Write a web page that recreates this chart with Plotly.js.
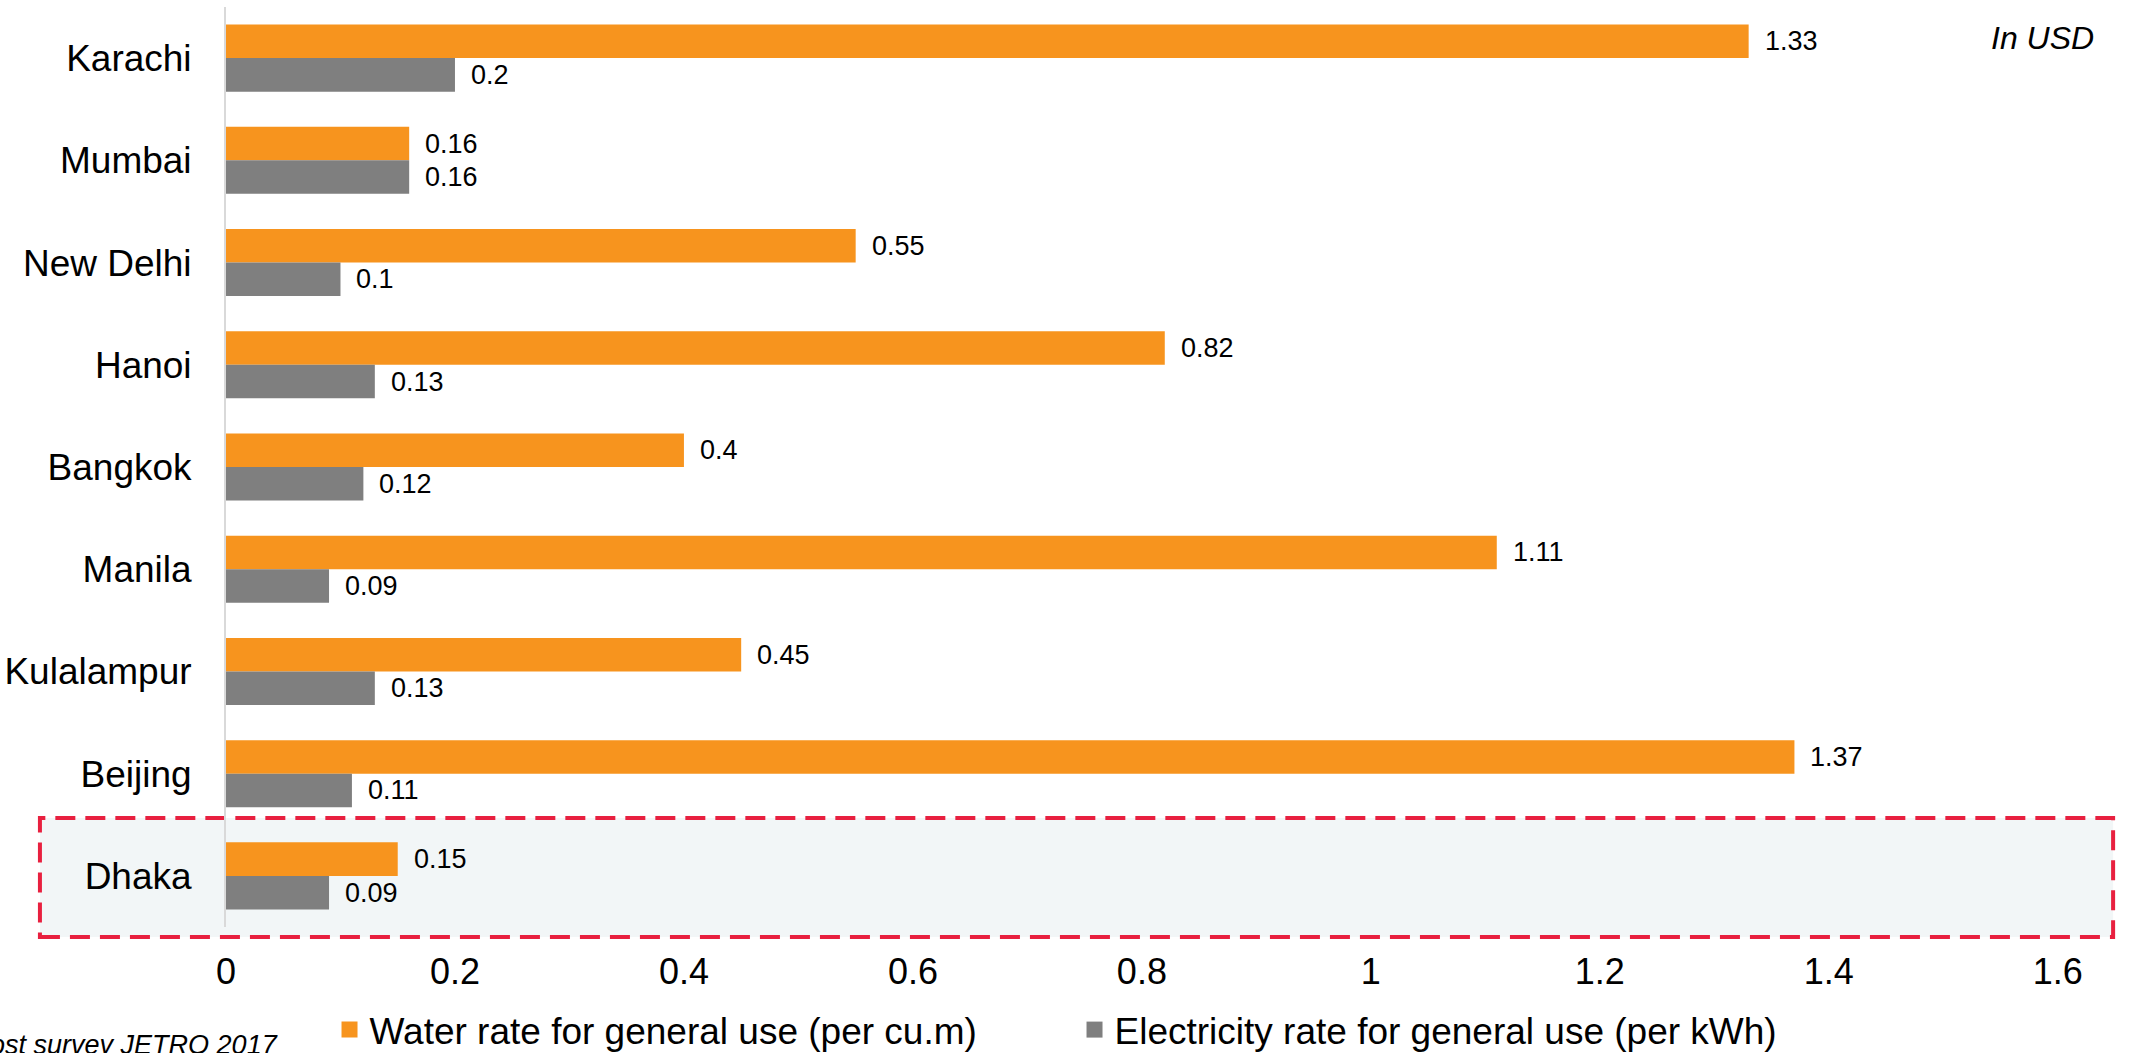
<!DOCTYPE html>
<html>
<head>
<meta charset="utf-8">
<script src="https://cdn.plot.ly/plotly-3.0.1.min.js"></script>
<style>html,body{margin:0;padding:0;background:#fff;}#chart{width:2131px;height:1053px;}</style>
</head>
<body>
<div id="chart"></div>
<script>
var cities = ["Karachi","Mumbai","New Delhi","Hanoi","Bangkok","Manila","Kulalampur","Beijing","Dhaka"];
var waterRate = [1.33,0.16,0.55,0.82,0.4,1.11,0.45,1.37,0.15];
var electricityRate = [0.2,0.16,0.1,0.13,0.12,0.09,0.13,0.11,0.09];
var xTicks = [0,0.2,0.4,0.6,0.8,1,1.2,1.4,1.6];
var xTickLabels = ["0","0.2","0.4","0.6","0.8","1","1.2","1.4","1.6"];
var seriesNames = ["Water rate for general use (per cu.m)","Electricity rate for general use (per kWh)"];
var highlightCity = "Dhaka";

var ORANGE = "#F7941E", GREY = "#7F7F7F";
var FONT = "Liberation Sans, Arial, sans-serif";
var bargap = 0.344;
var half = (1 - bargap) / 4;

var traces = [
  {type:"bar", orientation:"h", y:cities, x:waterRate, name:seriesNames[0],
   marker:{color:ORANGE}, showlegend:false, hoverinfo:"x+y"},
  {type:"bar", orientation:"h", y:cities, x:electricityRate, name:seriesNames[1],
   marker:{color:GREY}, showlegend:false, hoverinfo:"x+y"},
  {type:"scatter", mode:"markers", x:[null], y:[null], name:seriesNames[0],
   marker:{symbol:"square", size:19, color:ORANGE}, showlegend:true},
  {type:"scatter", mode:"markers", x:[null], y:[null], name:seriesNames[1],
   marker:{symbol:"square", size:19, color:GREY}, showlegend:true}
];

var annotations = [];
cities.forEach(function(c, i){
  annotations.push({x:waterRate[i], y:i - half, xref:"x", yref:"y", text:String(waterRate[i]),
    showarrow:false, xanchor:"left", yanchor:"middle", xshift:14, font:{family:FONT,size:27,color:"#000"}});
  annotations.push({x:electricityRate[i], y:i + half, xref:"x", yref:"y", text:String(electricityRate[i]),
    showarrow:false, xanchor:"left", yanchor:"middle", xshift:14, font:{family:FONT,size:27,color:"#000"}});
});
annotations.push({xref:"paper", yref:"paper", x:0.9899, y:0.9663, xanchor:"right", yanchor:"middle",
  text:"<i>In USD</i>", showarrow:false, font:{family:FONT,size:32,color:"#000"}});
annotations.push({xref:"paper", yref:"paper", x:0.0286, y:-0.128, xanchor:"right", yanchor:"middle",
  text:"<i>Source: Cost survey JETRO 2017</i>", showarrow:false, font:{family:FONT,size:27,color:"#000"}});

var hi = cities.indexOf(highlightCity);
var layout = {
  width:2131, height:1053,
  margin:{l:226, r:16, t:7, b:126, autoexpand:false},
  paper_bgcolor:"#fff", plot_bgcolor:"rgba(0,0,0,0)",
  barmode:"group", bargap:bargap, bargroupgap:0,
  font:{family:FONT, color:"#000"},
  xaxis:{range:[0,1.65], tickvals:xTicks, ticktext:xTickLabels, showgrid:false, zeroline:false,
    showline:false, ticks:"", tickfont:{size:36, family:FONT, color:"#000"}, ticklabelstandoff:20, fixedrange:true, automargin:false},
  yaxis:{type:"category", categoryorder:"array", categoryarray:cities, range:[cities.length-0.5,-0.5],
    showgrid:false, zeroline:false, showline:true, linecolor:"#D9D9D9", linewidth:2, ticks:"",
    tickfont:{size:37, family:FONT, color:"#000"}, ticklabelstandoff:25, fixedrange:true, automargin:false},
  showlegend:true,
  legend:{orientation:"h", x:0.0548, xanchor:"left", y:-0.112, yanchor:"middle",
    font:{size:37, family:FONT, color:"#000"}, bgcolor:"rgba(0,0,0,0)", entrywidth:700, tracegroupgap:0},
  shapes:[{type:"rect", xref:"paper", yref:"paper", x0:-0.0985, x1:0.999, y0:-0.0109, y1:0.1185,
    fillcolor:"#F2F6F7", line:{color:"#E8203F", width:4, dash:"20px,10px"}, layer:"below"}],
  annotations:annotations
};
Plotly.newPlot("chart", traces, layout, {displayModeBar:false, staticPlot:true});
</script>
</body>
</html>
